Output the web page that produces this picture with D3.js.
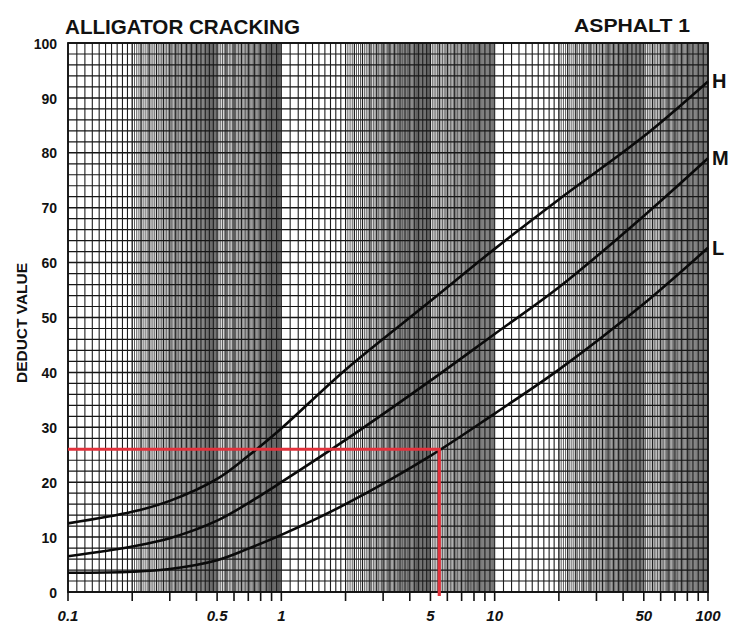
<!DOCTYPE html>
<html>
<head>
<meta charset="utf-8">
<script src="https://cdn.jsdelivr.net/npm/d3@7"></script>
<style>
  html, body { margin: 0; padding: 0; background: #fff; }
  svg { display: block; }
</style>
</head>
<body>
<div id="chart"></div>
<script>
// density (x axis, log) and deduct values
const density = [0.1, 0.2, 0.3, 0.5, 0.7, 1, 2, 5, 10, 20, 50, 100];
const highSev = [12.5, 14.6, 16.6, 20.6, 24.8, 29.8, 40.5, 53, 62.5, 71.5, 83, 93];
const medSev  = [6.5, 8.3, 9.8, 13, 16.2, 20, 27.7, 38.5, 47, 55.5, 68.5, 79];
const lowSev  = [3.5, 3.7, 4.2, 5.8, 7.9, 10.4, 16, 24.8, 32.5, 40.5, 52.5, 62.7];
const curveNames = ["H", "M", "L"];

const xTickLabels = [0.1, 0.5, 1, 5, 10, 50, 100];
const yTickLabels = [0, 10, 20, 30, 40, 50, 60, 70, 80, 90, 100];

// example reading (red guide lines)
const sampleDensity = 5.5;
const sampleDeduct = 26;

const width = 729, height = 625;
const margin = { top: 43, right: 21, bottom: 33, left: 68 };

const svg = d3.select("#chart").append("svg")
  .attr("width", width)
  .attr("height", height);

const x = d3.scaleLog().domain([0.1, 100]).range([margin.left, width - margin.right]);
const y = d3.scaleLinear().domain([0, 100]).range([height - margin.bottom, margin.top]);

const x0 = x.range()[0], x1 = x.range()[1];
const y0 = y.range()[0], y1 = y.range()[1];

// log paper rulings: fine lines (make the grey bands) and heavier lines
const fineLines = [], heavyLines = [];
[0.1, 1, 10].forEach(dec => {
  for (let m = 2; m < 5 - 1e-9; m += 0.05) fineLines.push(dec * m);
  for (let m = 5; m < 10 - 1e-9; m += 0.1) fineLines.push(dec * m);
  for (let m = 1; m < 2 - 1e-9; m += 0.1) heavyLines.push(dec * m);
  for (let m = 2; m < 5 - 1e-9; m += 0.2) heavyLines.push(dec * m);
  for (let m = 5; m < 10 - 1e-9; m += 0.5) heavyLines.push(dec * m);
});
heavyLines.push(100);

const grid = svg.append("g").attr("class", "grid");

grid.selectAll("line.fine")
  .data(fineLines)
  .enter().append("line")
  .attr("class", "fine")
  .attr("x1", d => x(d)).attr("x2", d => x(d))
  .attr("y1", y1).attr("y2", y0)
  .attr("stroke", "#4a4a4a")
  .attr("stroke-width", 0.9);

grid.selectAll("line.heavy")
  .data(heavyLines)
  .enter().append("line")
  .attr("class", "heavy")
  .attr("x1", d => x(d)).attr("x2", d => x(d))
  .attr("y1", y1).attr("y2", y0)
  .attr("stroke", "#1e1e1e")
  .attr("stroke-width", 1.1);

grid.selectAll("line.h")
  .data(d3.range(0, 101, 2))
  .enter().append("line")
  .attr("class", "h")
  .attr("x1", x0).attr("x2", x1)
  .attr("y1", d => y(d)).attr("y2", d => y(d))
  .attr("stroke", "#161616")
  .attr("stroke-width", d => d % 10 === 0 ? 1.5 : 1.2);

// border
svg.append("rect")
  .attr("x", x0).attr("y", y1)
  .attr("width", x1 - x0).attr("height", y0 - y1)
  .attr("fill", "none")
  .attr("stroke", "#111")
  .attr("stroke-width", 1.8);

// ticks under the x axis
const tickVals = [];
[0.1, 1, 10].forEach(dec => { for (let m = 1; m <= 9; m++) tickVals.push(dec * m); });
tickVals.push(100);
svg.append("g").selectAll("line")
  .data(tickVals)
  .enter().append("line")
  .attr("x1", d => x(d)).attr("x2", d => x(d))
  .attr("y1", y0).attr("y2", y0 + 9)
  .attr("stroke", "#111")
  .attr("stroke-width", 1.6);

// axis labels
svg.append("g").selectAll("text")
  .data(xTickLabels)
  .enter().append("text")
  .attr("x", d => x(d))
  .attr("y", 621)
  .attr("text-anchor", "middle")
  .attr("font-family", "Liberation Sans, Arial, sans-serif")
  .attr("font-weight", "bold")
  .attr("font-style", "italic")
  .attr("font-size", 15)
  .attr("fill", "#111")
  .text(d => d);

svg.append("g").selectAll("text")
  .data(yTickLabels)
  .enter().append("text")
  .attr("x", 57)
  .attr("y", d => y(d))
  .attr("dy", "0.4em")
  .attr("text-anchor", "end")
  .attr("font-family", "Liberation Sans, Arial, sans-serif")
  .attr("font-weight", "bold")
  .attr("font-size", 14)
  .attr("fill", "#111")
  .text(d => d);

svg.append("text")
  .attr("transform", `translate(27, 323) rotate(-90)`)
  .attr("text-anchor", "middle")
  .attr("font-family", "Liberation Sans, Arial, sans-serif")
  .attr("font-weight", "bold")
  .attr("font-size", 15)
  .attr("textLength", 120)
  .attr("lengthAdjust", "spacingAndGlyphs")
  .attr("fill", "#111")
  .text("DEDUCT VALUE");

svg.append("text")
  .attr("x", 65).attr("y", 34)
  .attr("font-family", "Liberation Sans, Arial, sans-serif")
  .attr("font-weight", "bold")
  .attr("font-size", 20)
  .attr("textLength", 235)
  .attr("lengthAdjust", "spacingAndGlyphs")
  .attr("fill", "#111")
  .text("ALLIGATOR CRACKING");

svg.append("text")
  .attr("x", 574).attr("y", 32)
  .attr("font-family", "Liberation Sans, Arial, sans-serif")
  .attr("font-weight", "bold")
  .attr("font-size", 19)
  .attr("textLength", 116)
  .attr("lengthAdjust", "spacingAndGlyphs")
  .attr("fill", "#111")
  .text("ASPHALT 1");

// curves
const series = [highSev, medSev, lowSev];
const line = d3.line()
  .x(d => x(d[0]))
  .y(d => y(d[1]))
  .curve(d3.curveCatmullRom.alpha(0.5));

svg.append("g").selectAll("path")
  .data(series)
  .enter().append("path")
  .attr("d", s => line(density.map((v, i) => [v, s[i]])))
  .attr("fill", "none")
  .attr("stroke", "#0a0a0a")
  .attr("stroke-width", 2.6);

svg.append("g").selectAll("text")
  .data(series)
  .enter().append("text")
  .attr("x", x1 + 4)
  .attr("y", s => y(s[s.length - 1]))
  .attr("dy", "0.35em")
  .attr("font-family", "Liberation Sans, Arial, sans-serif")
  .attr("font-weight", "bold")
  .attr("font-size", 20)
  .attr("fill", "#111")
  .text((s, i) => curveNames[i]);

// red reading lines
svg.append("path")
  .attr("d", `M${x0},${y(sampleDeduct)}H${x(sampleDensity)}V${y0 + 4}`)
  .attr("fill", "none")
  .attr("stroke", "#e3323c")
  .attr("stroke-width", 3.2);
</script>
</body>
</html>
